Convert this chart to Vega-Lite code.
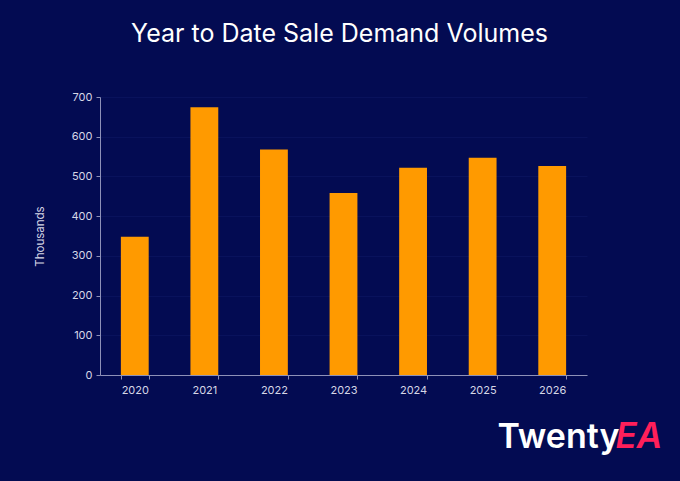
{
  "$schema": "https://vega.github.io/schema/vega-lite/v6.json",
  "description": "Year to date sale demand volumes, in thousands",
  "width": 487,
  "height": 278,
  "autosize": "none",
  "padding": {"left": 100, "top": 97, "right": 93, "bottom": 106},
  "background": "#030b52",
  "config": {"view": {"stroke": null}, "font": "Inter"},
  "title": {
    "text": "Year to Date Sale Demand Volumes",
    "fontSize": 25,
    "fontWeight": "normal",
    "color": "#ffffff",
    "anchor": "middle",
    "baseline": "alphabetic",
    "offset": 24,
    "dx": -4
  },
  "data": {
    "values": [
      {"year": "2020", "volume": 348},
      {"year": "2021", "volume": 674},
      {"year": "2022", "volume": 568},
      {"year": "2023", "volume": 458},
      {"year": "2024", "volume": 522},
      {"year": "2025", "volume": 547},
      {"year": "2026", "volume": 526}
    ]
  },
  "layer": [
    {
      "mark": {"type": "bar", "color": "#ff9a00"},
      "encoding": {
        "x": {
          "field": "year",
          "type": "ordinal",
          "scale": {"paddingInner": 0.6, "paddingOuter": 0.3},
          "axis": {
            "labelAngle": 0,
            "labelColor": "#d6d7e6",
            "labelFontSize": 11,
            "labelPadding": 5,
            "domainColor": "#8e91b8",
            "tickColor": "#8e91b8",
            "tickSize": 4,
            "tickBand": "extent",
            "title": "Twenty",
            "titleX": 397,
            "titleY": 72,
            "titleAngle": 0,
            "titleAlign": "left",
            "titleBaseline": "alphabetic",
            "titleFontSize": 34,
            "titleFontWeight": 600,
            "titleColor": "#ffffff"
          }
        },
        "y": {
          "field": "volume",
          "type": "quantitative",
          "scale": {"domain": [0, 700]},
          "axis": {
            "title": "Thousands",
            "values": [0, 100, 200, 300, 400, 500, 600, 700],
            "labelOverlap": false,
            "grid": true,
            "gridColor": "#09125c",
            "domainColor": "#8e91b8",
            "tickColor": "#8e91b8",
            "tickSize": 4,
            "labelPadding": 4,
            "labelColor": "#d6d7e6",
            "labelFontSize": 11,
            "titleColor": "#d6d7e6",
            "titleFontSize": 11.5,
            "titleFontWeight": "normal",
            "titlePadding": 26
          }
        }
      }
    },
    {
      "mark": {"type": "bar", "opacity": 0},
      "encoding": {
        "x": {
          "field": "year",
          "type": "ordinal",
          "scale": {"paddingInner": 0.6, "paddingOuter": 0.3},
          "axis": {
            "orient": "top",
            "labels": false,
            "ticks": false,
            "domain": false,
            "grid": false,
            "title": "EA",
            "titleX": 515,
            "titleY": 350,
            "titleAngle": 0,
            "titleAlign": "left",
            "titleBaseline": "alphabetic",
            "titleFontSize": 35,
            "titleFontStyle": "italic",
            "titleFontWeight": 600,
            "titleColor": "#ff1f5a"
          }
        },
        "y": {
          "field": "volume",
          "type": "quantitative",
          "axis": {
            "title": "Thousands",
            "values": [0, 100, 200, 300, 400, 500, 600, 700],
            "labelOverlap": false,
            "grid": true,
            "gridColor": "#09125c",
            "domainColor": "#8e91b8",
            "tickColor": "#8e91b8",
            "tickSize": 4,
            "labelPadding": 4,
            "labelColor": "#d6d7e6",
            "labelFontSize": 11,
            "titleColor": "#d6d7e6",
            "titleFontSize": 11.5,
            "titleFontWeight": "normal",
            "titlePadding": 26
          }
        }
      }
    }
  ],
  "resolve": {"scale": {"x": "independent"}}
}
